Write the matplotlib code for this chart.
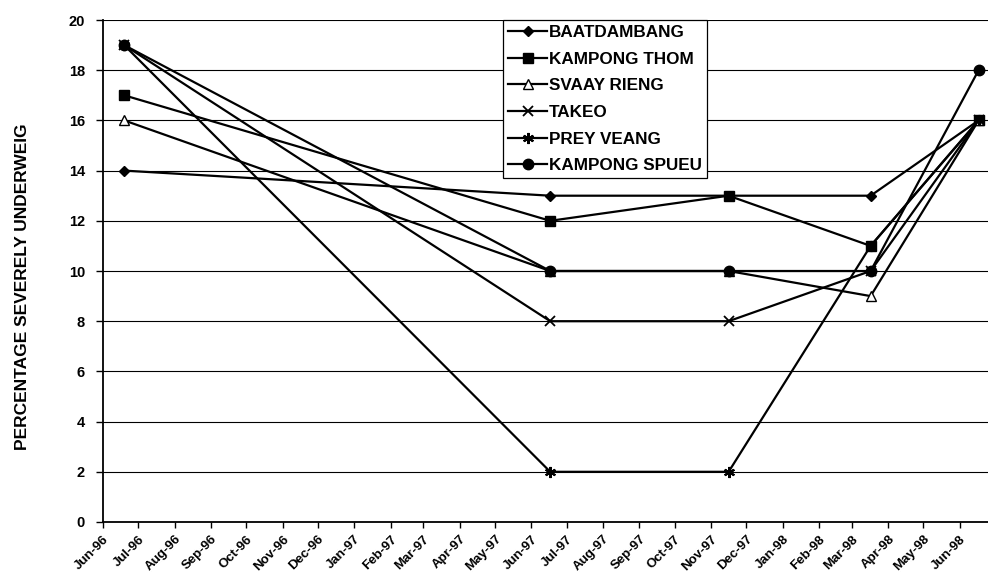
import matplotlib
matplotlib.use("Agg")
import matplotlib.pyplot as plt
import matplotlib.dates as mdates
from datetime import datetime

plt.rcParams['font.family'] = ['Liberation Sans', 'DejaVu Sans']
plt.rcParams['font.weight'] = 'bold'

# Survey dates
dates = [datetime(1996, 6, 19), datetime(1997, 6, 17), datetime(1997, 11, 16),
         datetime(1998, 3, 17), datetime(1998, 6, 17)]

provinces = ["BAATDAMBANG", "KAMPONG THOM", "SVAAY RIENG", "TAKEO",
             "PREY VEANG", "KAMPONG SPUEU"]

baatdambang = [14, 13, 13, 13, 16]
kampong_thom = [17, 12, 13, 11, 16]
svaay_rieng = [16, 10, 10, 9, 16]
takeo = [19, 8, 8, 10, 16]
prey_veang = [19, 2, 2, 11, 16]
kampong_spueu = [19, 10, 10, 10, 18]

series = [baatdambang, kampong_thom, svaay_rieng, takeo, prey_veang, kampong_spueu]

styles = [
    dict(marker='D', markersize=5, markerfacecolor='black'),
    dict(marker='s', markersize=7, markerfacecolor='black'),
    dict(marker='^', markersize=7, markerfacecolor='white'),
    dict(marker='x', markersize=7, markeredgewidth=1.3),
    dict(marker=(6, 2, 0), markersize=8, markeredgewidth=1.5),
    dict(marker='o', markersize=7.5, markerfacecolor='black'),
]

fig = plt.figure(figsize=(9.88, 5.85), dpi=100)
ax = fig.add_axes([0.1043, 0.1077, 0.8957, 0.8581])

for name, vals, st in zip(provinces, series, styles):
    ax.plot(dates, vals, color='black', linewidth=1.6, markeredgecolor='black',
            label=name, zorder=3, **st)

ax.set_ylim(0, 20)
ax.set_yticks(range(0, 21, 2))
ax.set_xlim(datetime(1996, 6, 1), datetime(1998, 6, 25))
ax.xaxis.set_major_locator(mdates.MonthLocator())
ax.xaxis.set_major_formatter(mdates.DateFormatter('%b-%y'))

ax.grid(axis='y', color='black', linewidth=0.8)
ax.grid(axis='x', visible=False)
ax.set_axisbelow(True)

for s in ['right', 'top']:
    ax.spines[s].set_visible(False)
ax.spines['left'].set_linewidth(1.3)
ax.spines['bottom'].set_linewidth(1.3)

ax.tick_params(axis='y', direction='out', length=5, width=1, labelsize=10.5, pad=8)
ax.tick_params(axis='x', direction='out', length=4, width=1, labelsize=9.5, pad=4)
for lbl in ax.get_xticklabels():
    lbl.set_rotation(45)
    lbl.set_ha('right')
    lbl.set_rotation_mode('anchor')
for lbl in ax.get_yticklabels():
    lbl.set_fontweight('bold')

fig.text(0.023, 0.51, "PERCENTAGE SEVERELY UNDERWEIG", rotation=90,
         ha='center', va='center', fontsize=12.5, fontweight='bold')

leg = ax.legend(loc='upper left', bbox_to_anchor=(0.452, 1.0), frameon=True,
                fancybox=False, edgecolor='black', framealpha=1, fontsize=12.3,
                handlelength=2.3, handletextpad=0.1, labelspacing=0.68,
                borderpad=0.3, borderaxespad=0)
leg.get_frame().set_linewidth(0.9)

fig.savefig("out.png", dpi=100)
